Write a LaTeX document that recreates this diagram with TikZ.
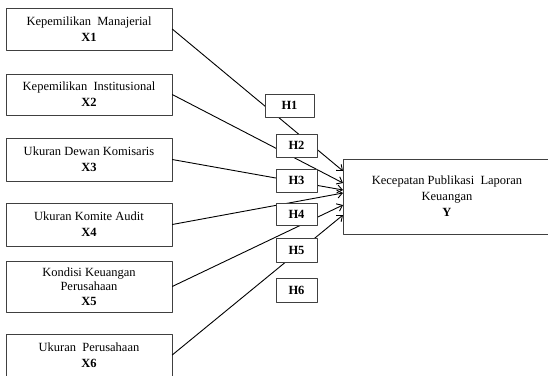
\documentclass[tikz,border=0pt]{standalone}
\usepackage{fontspec}
\setmainfont{Liberation Serif}
\usetikzlibrary{arrows.meta}

\begin{document}
\begin{tikzpicture}[x=1pt, y=-1pt, font=\fontsize{12.5}{16}\selectfont, line join=round, >={Straight Barb[length=5pt,width=8pt]},
		varbox/.style={draw=black!75, fill=white, minimum width=166pt, align=center, inner sep=0pt},
		hipbox/.style={draw=black!75, fill=white, minimum width=41pt, minimum height=23pt, inner sep=0pt, font=\fontsize{12.5}{14}\selectfont\bfseries},
		path/.style={black, line width=0.9pt}]
			\useasboundingbox (0,0) rectangle (548,375);
			% variabel independen
			\node[varbox, minimum height=42pt] (x1) at (89,29) {Kepemilikan\ \ Manajerial\\ \textbf{X1}};
			\node[varbox, minimum height=41pt] (x2) at (89,94.5) {Kepemilikan\ \ Institusional\\ \textbf{X2}};
			\node[varbox, minimum height=43pt] (x3) at (89,159.5) {Ukuran Dewan Komisaris\\ \textbf{X3}};
			\node[varbox, minimum height=43pt] (x4) at (89,224.5) {Ukuran Komite Audit\\ \textbf{X4}};
			\node[varbox, minimum height=51pt, font=\fontsize{12.5}{14.5}\selectfont] (x5) at (89,286.5) {Kondisi Keuangan\\ Perusahaan\\ \textbf{X5}};
			\node[varbox, minimum height=42pt] (x6) at (89,355) {Ukuran\ \ Perusahaan\\ \textbf{X6}};
			% variabel dependen
			\node[varbox, minimum width=216pt, minimum height=75pt] (y) at (451,196.5) {};
			\node[align=center, inner sep=0pt] (ylabel) at (447,196.5) {Kecepatan Publikasi\ \ Laporan\\ Keuangan\\ \textbf{Y}};
			\coordinate (y1) at (343,171);
			\coordinate (y2) at (343,183);
			\coordinate (y3) at (343,190);
			\coordinate (y4) at (343,193);
			\coordinate (y5) at (343,205);
			\coordinate (y6) at (343,215);
			\foreach \i in {1,...,6}
				\draw[path,->] (x\i.east) -- (y\i);
			% hipotesis
			\node[hipbox, minimum width=49pt] (h1) at (289.5,105.5) {H1};
			\node[hipbox] (h2) at (296.5,145.5) {H2};
			\node[hipbox] (h3) at (296.5,180.5) {H3};
			\node[hipbox, minimum height=22pt] (h4) at (296.5,214) {H4};
			\node[hipbox, minimum height=24pt] (h5) at (296.5,250) {H5};
			\node[hipbox, minimum height=24pt] (h6) at (296.5,290) {H6};
		\end{tikzpicture}
\end{document}
